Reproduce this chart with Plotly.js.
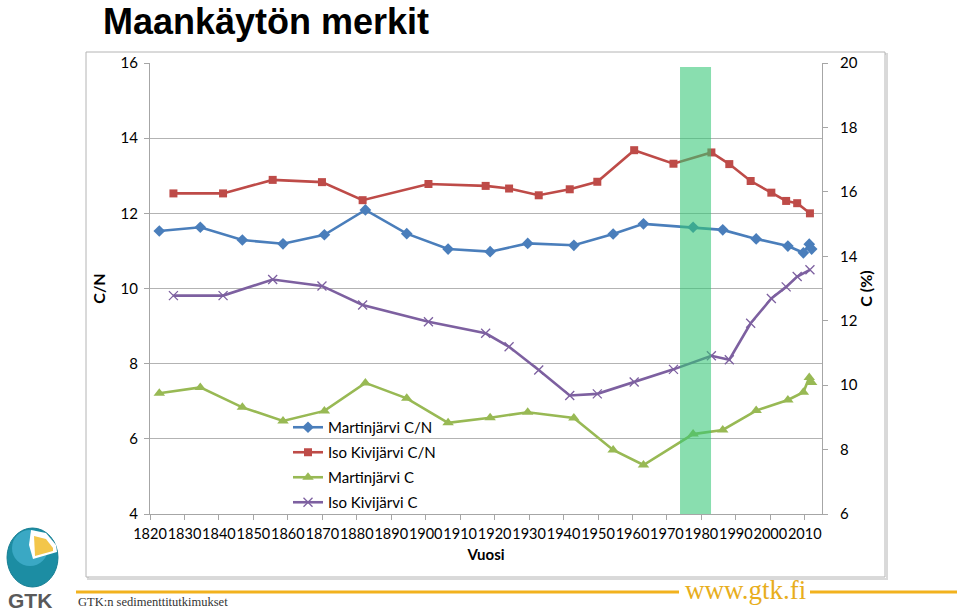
<!DOCTYPE html>
<html>
<head>
<meta charset="utf-8">
<script src="https://cdn.plot.ly/plotly-3.0.1.min.js"></script>
<style>
html,body{margin:0;padding:0;background:#fff;}
#chart{width:960px;height:612px;}
</style>
</head>
<body>
<div id="chart"></div>
<script>
// ---- data ----
const martYears = [1822.7, 1834.6, 1846.8, 1858.6, 1870.6, 1882.5, 1894.5, 1906.5, 1918.7, 1929.6,
                   1943.0, 1954.4, 1963.2, 1977.6, 1986.2, 1995.9, 2005.1, 2009.6, 2011.3, 2012.0];
const martCN = [11.53, 11.63, 11.29, 11.19, 11.43, 12.09, 11.46, 11.05, 10.98, 11.20,
                11.15, 11.45, 11.72, 11.63, 11.56, 11.32, 11.13, 10.95, 11.18, 11.05];
const martC  = [9.75, 9.93, 9.31, 8.89, 9.20, 10.07, 9.59, 8.83, 8.99, 9.16,
                8.98, 7.99, 7.52, 8.48, 8.61, 9.21, 9.54, 9.78, 10.24, 10.08];
const isoYears = [1826.8, 1841.2, 1855.6, 1869.9, 1881.7, 1900.8, 1917.4, 1924.2, 1932.8, 1941.8,
                  1949.8, 1960.5, 1971.9, 1982.9, 1988.1, 1994.3, 2000.3, 2004.6, 2007.8, 2011.5];
const isoCN = [12.53, 12.53, 12.89, 12.83, 12.35, 12.78, 12.73, 12.66, 12.48, 12.64,
               12.84, 13.68, 13.32, 13.62, 13.31, 12.86, 12.55, 12.33, 12.27, 12.00];
const isoC  = [12.78, 12.78, 13.28, 13.08, 12.49, 11.97, 11.61, 11.19, 10.47, 9.68,
               9.73, 10.10, 10.49, 10.91, 10.79, 11.92, 12.69, 13.05, 13.37, 13.58];
const seriesNames = ["Martinjärvi C/N", "Iso Kivijärvi C/N", "Martinjärvi C", "Iso Kivijärvi C"];
const xTickVals = [1820, 1830, 1840, 1850, 1860, 1870, 1880, 1890, 1900, 1910,
                   1920, 1930, 1940, 1950, 1960, 1970, 1980, 1990, 2000, 2010];
const yLeftTicks = [4, 6, 8, 10, 12, 14, 16];
const yRightTicks = [6, 8, 10, 12, 14, 16, 18, 20];
const landUseBand = [1973.8, 1982.8];

// ---- geometry helpers (pixel -> paper) ----
const PL = 150, PR = 822, PT = 63, PB = 514;
const px = x => (x - PL) / (PR - PL);
const py = y => (PB - y) / (PB - PT);

const tickFont = {family: "Lato, 'Open Sans', sans-serif", size: 15, color: "#000"};

const traces = [
  {x: martYears, y: martCN, name: seriesNames[0], yaxis: "y", legendgroup: "a",
   mode: "lines+markers", line: {color: "#4A7EBB", width: 2.6},
   marker: {symbol: "diamond", size: 9, color: "#4A7EBB"}},
  {x: isoYears, y: isoCN, name: seriesNames[1], yaxis: "y", legendgroup: "b",
   mode: "lines+markers", line: {color: "#BE4B48", width: 2.6},
   marker: {symbol: "square", size: 8, color: "#BE4B48"}},
  {x: martYears, y: martC, name: seriesNames[2], yaxis: "y2", legendgroup: "c",
   mode: "lines+markers", line: {color: "#98B954", width: 2.6},
   marker: {symbol: "triangle-up", size: 10, color: "#98B954"}},
  {x: isoYears, y: isoC, name: seriesNames[3], yaxis: "y2", legendgroup: "d",
   mode: "lines+markers", line: {color: "#7D60A0", width: 2.6},
   marker: {symbol: "x-thin-open", size: 9, line: {color: "#7D60A0", width: 1.3}, color: "#7D60A0"}}
];

function ellipsePath(x0, y0, x1, y1) {
  return {type: "circle", xref: "paper", yref: "paper", x0: px(x0), x1: px(x1), y0: py(y1), y1: py(y0)};
}
function poly(pts) {
  return "M" + pts.map(p => px(p[0]) + "," + py(p[1])).join(" L") + " Z";
}

const shapes = [
  // chart frame
  {type: "rect", xref: "paper", yref: "paper", x0: px(88), x1: px(887), y0: py(579), y1: py(54),
   line: {color: "#d9d9d9", width: 2}, layer: "below"},
  {type: "rect", xref: "paper", yref: "paper", x0: px(86), x1: px(885), y0: py(577), y1: py(52),
   line: {color: "#b4b4b4", width: 1}, fillcolor: "#ffffff", layer: "below"},
  // land use band
  {type: "rect", xref: "x", yref: "paper", x0: landUseBand[0], x1: landUseBand[1], y0: 0, y1: py(67),
   fillcolor: "rgba(52,198,118,0.58)", line: {width: 0}, layer: "above"},
  // footer lines
  {type: "line", xref: "paper", yref: "paper", x0: px(76), x1: px(679), y0: py(592), y1: py(592),
   line: {color: "#F2B21E", width: 3}},
  {type: "line", xref: "paper", yref: "paper", x0: px(810), x1: px(957), y0: py(592), y1: py(592),
   line: {color: "#F2B21E", width: 3}},
  // logo globe
  Object.assign(ellipsePath(7, 528, 58, 587), {fillcolor: "#1C8DA3", line: {color: "#167E93", width: 1}}),
  Object.assign(ellipsePath(12, 530, 48, 566), {fillcolor: "#3AA8C4", line: {width: 0}}),
  {type: "path", xref: "paper", yref: "paper",
   path: poly([[31, 530], [46, 533], [56, 545], [57, 552], [33, 559], [29, 545]]),
   fillcolor: "#ffffff", line: {width: 0}},
  {type: "path", xref: "paper", yref: "paper",
   path: poly([[34, 536], [46, 539], [53, 548], [53, 551], [35, 556]]),
   fillcolor: "#F3C64A", line: {width: 0}}
];

const annotations = [
  {text: "www.gtk.fi", xref: "paper", yref: "paper", x: px(745), y: py(590), xanchor: "center", yanchor: "middle",
   showarrow: false, font: {family: "'Liberation Serif', serif", size: 27, color: "#E8AE1C"}},
  {text: "GTK:n sedimenttitutkimukset", xref: "paper", yref: "paper", x: px(76), y: py(602), xanchor: "left", yanchor: "middle",
   showarrow: false, font: {family: "'Liberation Serif', serif", size: 12.5, color: "#333"}},
  {text: "GTK", xref: "paper", yref: "paper", x: px(30), y: py(600), xanchor: "center", yanchor: "middle",
   showarrow: false, font: {family: "'Liberation Sans', Arial, sans-serif", size: 21, color: "#5a5a5a", weight: 700}}
];

const layout = {
  width: 960, height: 612,
  margin: {l: PL, r: 960 - PR, t: PT, b: 612 - PB, pad: 0},
  paper_bgcolor: "#ffffff", plot_bgcolor: "rgba(0,0,0,0)",
  title: {text: "Maankäytön merkit", xref: "container", yref: "container",
          x: 103 / 960, xanchor: "left", y: 1 - 21 / 612, yanchor: "middle", pad: {t: 0, b: 0, l: 0, r: 0},
          font: {family: "'Liberation Sans', Arial, sans-serif", size: 36, color: "#000", weight: 700}},
  xaxis: {range: [1820, 2015], tickvals: xTickVals, tickangle: 0, ticks: "outside", ticklen: 5, tickcolor: "#a6a6a6",
          showline: true, linecolor: "#a6a6a6", linewidth: 1, showgrid: false, zeroline: false,
          tickfont: Object.assign({}, tickFont, {size: 14.5}), ticklabelstandoff: 2,
          title: {text: "Vuosi", font: {family: "Lato, sans-serif", size: 15, color: "#000", weight: 700}, standoff: 8}},
  yaxis: {range: [4, 16], tickvals: yLeftTicks, ticks: "outside", ticklen: 5, tickcolor: "#a6a6a6",
          showline: true, linecolor: "#a6a6a6", linewidth: 1, showgrid: true, gridcolor: "#b3b3b3", gridwidth: 1,
          zeroline: false, tickfont: tickFont, ticklabelstandoff: 3,
          title: {text: "C/N", font: {family: "Lato, sans-serif", size: 16, color: "#000", weight: 700}, standoff: 10}},
  yaxis2: {range: [6, 20], tickvals: yRightTicks, overlaying: "y", side: "right", ticks: "outside", ticklen: 5,
           tickcolor: "#a6a6a6", showline: true, linecolor: "#a6a6a6", linewidth: 1, showgrid: false, zeroline: false,
           tickfont: tickFont, ticklabelstandoff: 9,
           title: {text: "C (%)", font: {family: "Lato, sans-serif", size: 16, color: "#000", weight: 700}, standoff: 4}},
  showlegend: true,
  legend: {x: px(288), y: py(411), xanchor: "left", yanchor: "top", bgcolor: "rgba(0,0,0,0)",
           font: {family: "Lato, sans-serif", size: 15, color: "#000"}, tracegroupgap: 2.5, itemwidth: 30},
  shapes: shapes,
  annotations: annotations
};

Plotly.newPlot("chart", traces, layout, {displayModeBar: false, staticPlot: true});
</script>
</body>
</html>
